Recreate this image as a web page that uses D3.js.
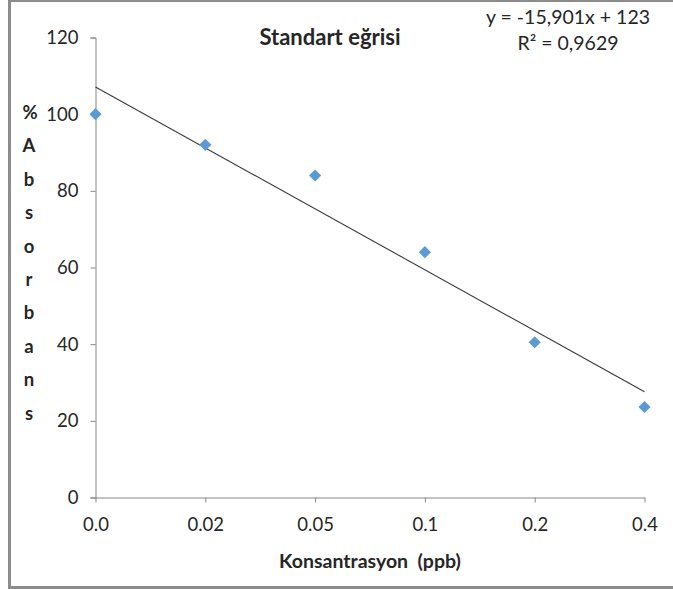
<!DOCTYPE html>
<html>
<head>
<meta charset="utf-8">
<script src="https://cdn.jsdelivr.net/npm/d3@7"></script>
<style>
  body { margin: 0; background: #fff; }
  text { font-family: Lato, "Open Sans", sans-serif; fill: #262626; }
</style>
</head>
<body>
<svg width="673" height="589"></svg>
<script>
'use strict';

// chart data
var categories = ['0.0', '0.02', '0.05', '0.1', '0.2', '0.4'];
var absorbans = [100, 92, 84, 64, 40.5, 23.6];
var yTicks = [0, 20, 40, 60, 80, 100, 120];
var yTitleLetters = ['%', 'A', 'b', 's', 'o', 'r', 'b', 'a', 'n', 's'];
var titleText = 'Standart eğrisi';
var xTitleText = 'Konsantrasyon\u00a0\u00a0(ppb)';
var equationLines = ['y = -15,901x + 123', 'R² = 0,9629'];

var svg = d3.select('svg');

// outer frame (left, top, bottom are visible)
svg.append('rect').attr('x', 0).attr('y', 0).attr('width', 673).attr('height', 589).attr('fill', '#fff');
svg.append('line').attr('x1', 9.5).attr('x2', 9.5).attr('y1', 0).attr('y2', 589)
  .attr('stroke', '#8c8c8c').attr('stroke-width', 3);
svg.append('line').attr('x1', 8).attr('x2', 673).attr('y1', 1).attr('y2', 1)
  .attr('stroke', '#8c8c8c').attr('stroke-width', 2);
svg.append('line').attr('x1', 8).attr('x2', 673).attr('y1', 587.5).attr('y2', 587.5)
  .attr('stroke', '#8c8c8c').attr('stroke-width', 3);

var x = d3.scalePoint().domain(categories).range([95.5, 644.5]);
var y = d3.scaleLinear().domain([0, 120]).range([497.5, 37.5]);

var axisColor = '#868686';

// y axis
var yAxis = svg.append('g').attr('transform', 'translate(95.5,0)')
  .call(d3.axisLeft(y).tickValues(yTicks).tickSize(5).tickPadding(12));
// x axis
var xAxis = svg.append('g').attr('transform', 'translate(0,497.5)')
  .call(d3.axisBottom(x).tickSize(5).tickPadding(15).tickSizeOuter(0));

[yAxis, xAxis].forEach(function(g){
  g.select('.domain').attr('stroke', axisColor);
  g.selectAll('.tick line').attr('stroke', axisColor);
  g.selectAll('.tick text').attr('font-size', 18.5).attr('fill', '#262626')
    .style('font-family', 'Lato, sans-serif');
});

// trendline: least squares on category index (1..n), like Excel
var n = absorbans.length;
var xs = d3.range(1, n + 1);
var mx = d3.mean(xs), my = d3.mean(absorbans);
var sxy = d3.sum(xs, function(v, i){ return (v - mx) * (absorbans[i] - my); });
var sxx = d3.sum(xs, function(v){ return (v - mx) * (v - mx); });
var slope = sxy / sxx;
var intercept = my - slope * mx;

svg.append('line')
  .attr('x1', x(categories[0])).attr('y1', y(intercept + slope * 1))
  .attr('x2', x(categories[n - 1])).attr('y2', y(intercept + slope * n))
  .attr('stroke', '#3a3a3a').attr('stroke-width', 1.1);

// markers
svg.selectAll('path.pt')
  .data(absorbans)
  .enter().append('path')
  .attr('class', 'pt')
  .attr('d', d3.symbol().type(d3.symbolSquare).size(74))
  .attr('transform', function(d, i){
    return 'translate(' + x(categories[i]) + ',' + y(d) + ') rotate(45)';
  })
  .attr('fill', '#5b9bd5');

// title
svg.append('text').attr('x', 330).attr('y', 45).attr('text-anchor', 'middle')
  .attr('font-size', 22).attr('font-weight', 'bold').text(titleText);

// trendline equation
svg.selectAll('text.eq')
  .data(equationLines)
  .enter().append('text')
  .attr('class', 'eq')
  .attr('x', 568)
  .attr('y', function(d, i){ return 24 + i * 26; })
  .attr('text-anchor', 'middle')
  .attr('font-size', 19.5)
  .text(function(d){ return d; });

// vertical stacked y title
svg.selectAll('text.yt')
  .data(yTitleLetters)
  .enter().append('text')
  .attr('class', 'yt')
  .attr('x', function(d, i){ return i === 0 ? 30 : 29; })
  .attr('y', function(d, i){ return 119 + i * 33.4; })
  .attr('text-anchor', 'middle')
  .attr('font-size', 18.5)
  .attr('font-weight', 'bold')
  .text(function(d){ return d; });

// x title
svg.append('text').attr('x', 370).attr('y', 568).attr('text-anchor', 'middle')
  .attr('font-size', 19.5).attr('font-weight', 'bold').text(xTitleText);
</script>
</body>
</html>
